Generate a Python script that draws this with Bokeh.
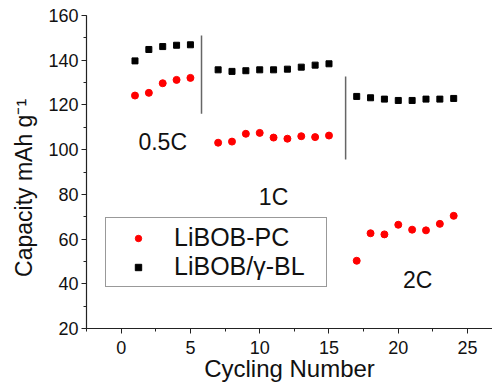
from bokeh.plotting import figure
from bokeh.models import SingleIntervalTicker, Legend, LegendItem, Range1d, ColumnDataSource
from bokeh.embed import file_html
from bokeh.resources import INLINE
from bokeh.core.properties import value

# ---- data ----
cycles = [1, 2, 3, 4, 5, 7, 8, 9, 10, 11, 12, 13, 14, 15, 17, 18, 19, 20, 21, 22, 23, 24]
pc_capacity = [124.2, 125.4, 129.7, 131.2, 132.1,
               103.1, 103.6, 107.1, 107.5, 105.4, 104.9, 106.0, 105.6, 106.3,
               50.3, 62.6, 62.1, 66.4, 64.2, 63.9, 66.8, 70.4]
bl_capacity = [139.7, 144.8, 146.1, 146.7, 146.9,
               135.7, 135.0, 135.3, 135.7, 135.7, 136.0, 136.9, 137.8, 138.4,
               123.8, 123.2, 122.6, 122.0, 122.0, 122.6, 122.6, 122.9]
series_names = ["LiBOB-PC", "LiBOB/\u03b3-BL"]

divider_x = [5.8, 16.2]
divider_top = [151.1, 132.7]
divider_bottom = [116.0, 95.6]

rate_labels = ["0.5C", "1C", "2C"]
rate_label_x = [3.0, 11.0, 21.4]
rate_label_y = [103.3, 78.7, 41.5]

x_title = "Cycling Number"
y_title = "Capacity mAh g\u207b\u00b9" + "\u00a0" * 5

FONT = "Liberation Sans"

p = figure(width=492, height=384, output_backend="svg", toolbar_location=None,
           x_range=Range1d(-2.5, 26.8), y_range=Range1d(20, 160),
           min_border_left=86, min_border_right=0, min_border_top=15, min_border_bottom=55)
p.outline_line_color = None
p.grid.visible = False
p.background_fill_color = "white"
p.border_fill_color = "white"

p.xaxis.ticker = SingleIntervalTicker(interval=5, num_minor_ticks=2)
p.yaxis.ticker = SingleIntervalTicker(interval=20, num_minor_ticks=2)
for ax in (p.xaxis, p.yaxis):
    ax.axis_line_color = "#222222"
    ax.axis_line_width = 1.2
    ax.major_tick_line_color = "#222222"
    ax.minor_tick_line_color = "#222222"
    ax.major_tick_out = 5
    ax.major_tick_in = 0
    ax.minor_tick_out = 3
    ax.minor_tick_in = 0
    ax.major_label_text_font = FONT
    ax.major_label_text_font_size = "18px"
    ax.major_label_text_color = "#111111"
    ax.axis_label_text_font = FONT
    ax.axis_label_text_font_style = "normal"
    ax.axis_label_text_color = "#111111"

p.xaxis.axis_label = x_title
p.yaxis.axis_label = y_title
p.xaxis.axis_label_text_font_size = "24px"
p.yaxis.axis_label_text_font_size = "23px"
p.xaxis.major_label_standoff = 7
p.xaxis.axis_label_standoff = -2
p.yaxis.major_label_standoff = 3
p.yaxis.axis_label_standoff = 8

# dividers
p.segment(x0=divider_x, y0=divider_bottom, x1=divider_x, y1=divider_top,
          line_color="#666666", line_width=1.5)

src = ColumnDataSource(dict(x=cycles, pc=pc_capacity, bl=bl_capacity))
r_pc = p.scatter("x", "pc", source=src, marker="circle", size=7,
                 fill_color="#ff0000", line_color="#ff0000")
r_bl = p.scatter("x", "bl", source=src, marker="square", size=6,
                 fill_color="#000000", line_color="#000000")

p.text(x=rate_label_x, y=rate_label_y, text=rate_labels,
       text_font=value(FONT), text_font_size="23px", text_color="#111111",
       text_align="center", text_baseline="middle")

legend = Legend(items=[LegendItem(label=series_names[0], renderers=[r_pc]),
                       LegendItem(label=series_names[1], renderers=[r_bl])],
                location=(19, 41), orientation="vertical",
                label_text_font=FONT, label_text_font_size="25px",
                label_text_color="#111111",
                border_line_color="#333333", border_line_width=1,
                background_fill_color="white", background_fill_alpha=1,
                padding=5, spacing=0, glyph_width=54, glyph_height=16,
                label_height=29, label_width=147, label_standoff=9, margin=0)
p.add_layout(legend, "center")

open("out.html", "w").write(file_html(p, INLINE))
